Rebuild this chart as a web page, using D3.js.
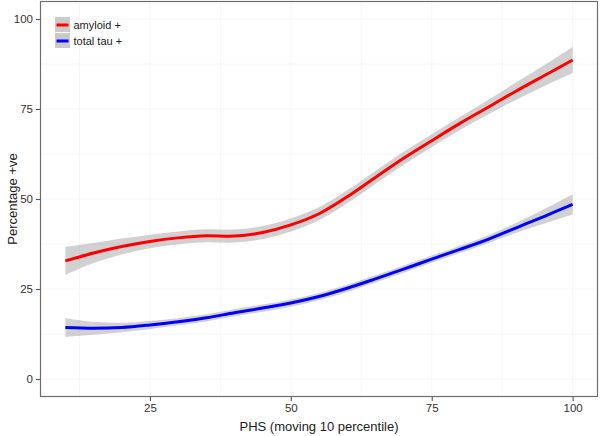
<!DOCTYPE html>
<html>
<head>
<meta charset="utf-8">
<script src="https://cdn.jsdelivr.net/npm/d3@7/dist/d3.min.js"></script>
<style>
  body { margin: 0; background: #fff; }
  svg { display: block; font-family: "Liberation Sans", Arial, Helvetica, sans-serif; }
</style>
</head>
<body>
<svg id="chart" width="600" height="436"></svg>
<script>
// ---- data ----
const phs = [10, 15, 20, 25, 30, 35, 40, 45, 50, 55, 60, 65, 70, 75, 80, 85, 90, 95, 100];
const amyloid = [32.8, 35.0, 36.8, 38.2, 39.2, 39.8, 39.7, 40.7, 42.8, 45.9, 50.6, 56.0, 61.3, 66.2, 71.0, 75.5, 80.0, 84.3, 88.6];
const amyloidSE = [3.9, 2.8, 2.2, 1.9, 1.8, 1.8, 1.8, 1.8, 1.8, 1.8, 1.8, 1.8, 1.8, 1.8, 1.8, 2.0, 2.4, 2.9, 3.6];
const tau = [14.3, 14.1, 14.3, 15.0, 15.9, 17.0, 18.4, 19.7, 21.1, 22.9, 25.2, 27.8, 30.5, 33.3, 36.0, 38.8, 42.0, 45.2, 48.5];
const tauSE = [2.6, 1.8, 1.3, 1.1, 1.0, 1.0, 1.0, 1.0, 1.0, 1.0, 1.0, 1.0, 1.0, 1.0, 1.0, 1.1, 1.4, 2.0, 2.8];
const xTicks = [25, 50, 75, 100];
const yTicks = [0, 25, 50, 75, 100];
const seriesNames = ["amyloid +", "total tau +"];
const seriesColors = ["#ff0000", "#0000ff"];

const svg = d3.select("#chart");
const m = { left: 40, right: 2, top: 1, bottom: 39 };
const W = 600, H = 436;

const x = d3.scaleLinear().domain([5.5, 104.5]).range([m.left, W - m.right]);
const y = d3.scaleLinear().domain([-5, 105]).range([H - m.bottom, m.top]);

// faint grid
const grid = svg.append("g");
const xGrid = [12.5, 25, 37.5, 50, 62.5, 75, 87.5, 100];
const yGrid = [0, 12.5, 25, 37.5, 50, 62.5, 75, 87.5, 100];
grid.selectAll("line.v").data(xGrid).join("line")
  .attr("x1", d => x(d)).attr("x2", d => x(d))
  .attr("y1", m.top).attr("y2", H - m.bottom)
  .attr("stroke", "#f6f6f6").attr("stroke-width", 1);
grid.selectAll("line.h").data(yGrid).join("line")
  .attr("y1", d => y(d)).attr("y2", d => y(d))
  .attr("x1", m.left).attr("x2", W - m.right)
  .attr("stroke", "#f6f6f6").attr("stroke-width", 1);

const series = [
  { name: seriesNames[0], color: seriesColors[0], vals: amyloid, se: amyloidSE },
  { name: seriesNames[1], color: seriesColors[1], vals: tau, se: tauSE }
];

const curve = d3.curveCatmullRom.alpha(0.5);
const area = d3.area()
  .x((d, i) => x(phs[i]))
  .y0(d => y(d[0] - d[1]))
  .y1(d => y(d[0] + d[1]))
  .curve(curve);
const line = d3.line()
  .x((d, i) => x(phs[i]))
  .y(d => y(d))
  .curve(curve);

series.forEach(s => {
  const pairs = s.vals.map((v, i) => [v, s.se[i]]);
  svg.append("path").attr("d", area(pairs))
    .attr("fill", "#999999").attr("fill-opacity", 0.45);
});
series.forEach(s => {
  svg.append("path").attr("d", line(s.vals))
    .attr("fill", "none").attr("stroke", s.color).attr("stroke-width", 3);
});

// panel border
svg.append("rect")
  .attr("x", m.left + 0.5).attr("y", m.top + 0.5)
  .attr("width", W - m.left - m.right - 1).attr("height", H - m.top - m.bottom - 1)
  .attr("fill", "none").attr("stroke", "#6e6e6e").attr("stroke-width", 1.2);

// axes
const xAxis = svg.append("g").attr("transform", `translate(0,${H - m.bottom})`)
  .call(d3.axisBottom(x).tickValues(xTicks).tickSize(4).tickPadding(3));
const yAxis = svg.append("g").attr("transform", `translate(${m.left},0)`)
  .call(d3.axisLeft(y).tickValues(yTicks).tickSize(4).tickPadding(3));
[xAxis, yAxis].forEach(a => {
  a.select(".domain").remove();
  a.selectAll(".tick line").attr("stroke", "#555").attr("stroke-width", 1.1);
  a.selectAll(".tick text").attr("fill", "#333").style("font-size", "11.5px")
    .style("font-family", '"Liberation Sans", Arial, sans-serif');
});

// axis titles
svg.append("text").attr("x", x(55)).attr("y", 431)
  .attr("text-anchor", "middle").attr("fill", "#222").style("font-size", "13px")
  .text("PHS (moving 10 percentile)");
svg.append("text").attr("transform", `translate(17,${y(50)}) rotate(-90)`)
  .attr("text-anchor", "middle").attr("fill", "#222").style("font-size", "13px")
  .text("Percentage +ve");

// legend
const lg = svg.append("g").attr("transform", "translate(55,17)");
series.forEach((s, i) => {
  const g = lg.append("g").attr("transform", `translate(0,${i * 16})`);
  g.append("rect").attr("width", 15).attr("height", 15).attr("fill", "#cacaca");
  g.append("line").attr("x1", 1.5).attr("x2", 13.5).attr("y1", 8).attr("y2", 8)
    .attr("stroke", s.color).attr("stroke-width", 3);
  g.append("text").attr("x", 18.5).attr("y", 8).attr("dy", "0.36em")
    .attr("fill", "#222").style("font-size", "11px").text(s.name);
});
</script>
</body>
</html>
